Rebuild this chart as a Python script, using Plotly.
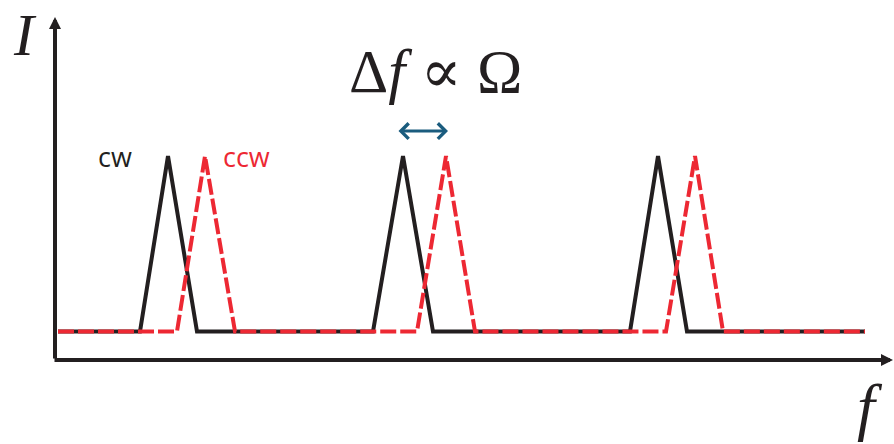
import plotly.graph_objects as go

# Frequency (arbitrary units) and normalized intensity of the two counter-propagating beams
cw_f = [2, 84, 112, 141, 317, 347, 377, 574, 602, 631, 809]
cw_I = [0, 0, 1, 0, 0, 1, 0, 0, 1, 0, 0]
ccw_f = [2, 121, 149, 179, 361, 390, 419, 610, 639, 667, 809]
ccw_I = [0, 0, 1, 0, 0, 1, 0, 0, 1, 0, 0]

BLACK = "#231F20"
RED = "#ED2833"
TEAL = "#1A5C7E"
SERIF = "'Liberation Serif', 'Times New Roman', 'DejaVu Serif', serif"

fig = go.Figure()
fig.add_trace(go.Scatter(x=cw_f, y=cw_I, mode="lines",
                         line=dict(color=BLACK, width=4), name="cw"))
fig.add_trace(go.Scatter(x=ccw_f, y=ccw_I, mode="lines",
                         line=dict(color=RED, width=4, dash="16px,4px"), name="ccw"))

X0, X1 = -56, 838
Y0, Y1 = -0.641, 1.889
axis_y = -0.162

ann = []
# coordinate axes drawn as arrows
ann.append(dict(x=-1, y=1.792, ax=-1, ay=axis_y, xref="x", yref="y", axref="x", ayref="y",
                text="", showarrow=True, arrowhead=2, arrowsize=0.6, arrowwidth=4,
                arrowcolor=BLACK))
ann.append(dict(x=837, y=axis_y, ax=-3, ay=axis_y, xref="x", yref="y", axref="x", ayref="y",
                text="", showarrow=True, arrowhead=2, arrowsize=0.6, arrowwidth=4,
                arrowcolor=BLACK))
# frequency splitting marker
ann.append(dict(x=392, y=1.142, ax=341, ay=1.142, xref="x", yref="y", axref="x", ayref="y",
                text="", showarrow=True, arrowhead=4, startarrowhead=4, arrowside="end+start",
                arrowsize=1.0, startarrowsize=1.0, arrowwidth=3, arrowcolor=TEAL))

# labels
ann.append(dict(x=25 - 56, y=1.0, xref="x", yref="paper", yanchor="top",
                text="<i>I</i>", showarrow=False,
                font=dict(family=SERIF, size=60, color=BLACK)))
ann.append(dict(text="Δ<i>f</i> ∝ Ω", showarrow=False, x=435 - 56, y=1.48,
                xref="x", yref="y", font=dict(family=SERIF, size=61, color=BLACK)))
ann.append(dict(text="<i>f</i>", showarrow=False, x=870 - 56, y=-0.43,
                xref="x", yref="y", font=dict(family=SERIF, size=64, color=BLACK)))
ann.append(dict(text="cw", showarrow=False, x=115 - 56, y=1.0, xref="x", yref="y",
                font=dict(family="Open Sans", size=27, color=BLACK)))
ann.append(dict(text="ccw", showarrow=False, x=246 - 56, y=1.0, xref="x", yref="y",
                font=dict(family="Open Sans", size=27, color=RED)))

fig.update_layout(
    width=894, height=444, margin=dict(l=0, r=0, t=0, b=0),
    paper_bgcolor="white", plot_bgcolor="white", showlegend=False,
    xaxis=dict(range=[X0, X1], visible=False, fixedrange=True),
    yaxis=dict(range=[Y0, Y1], visible=False, fixedrange=True),
    annotations=ann,
)

fig.write_html("out.html")
